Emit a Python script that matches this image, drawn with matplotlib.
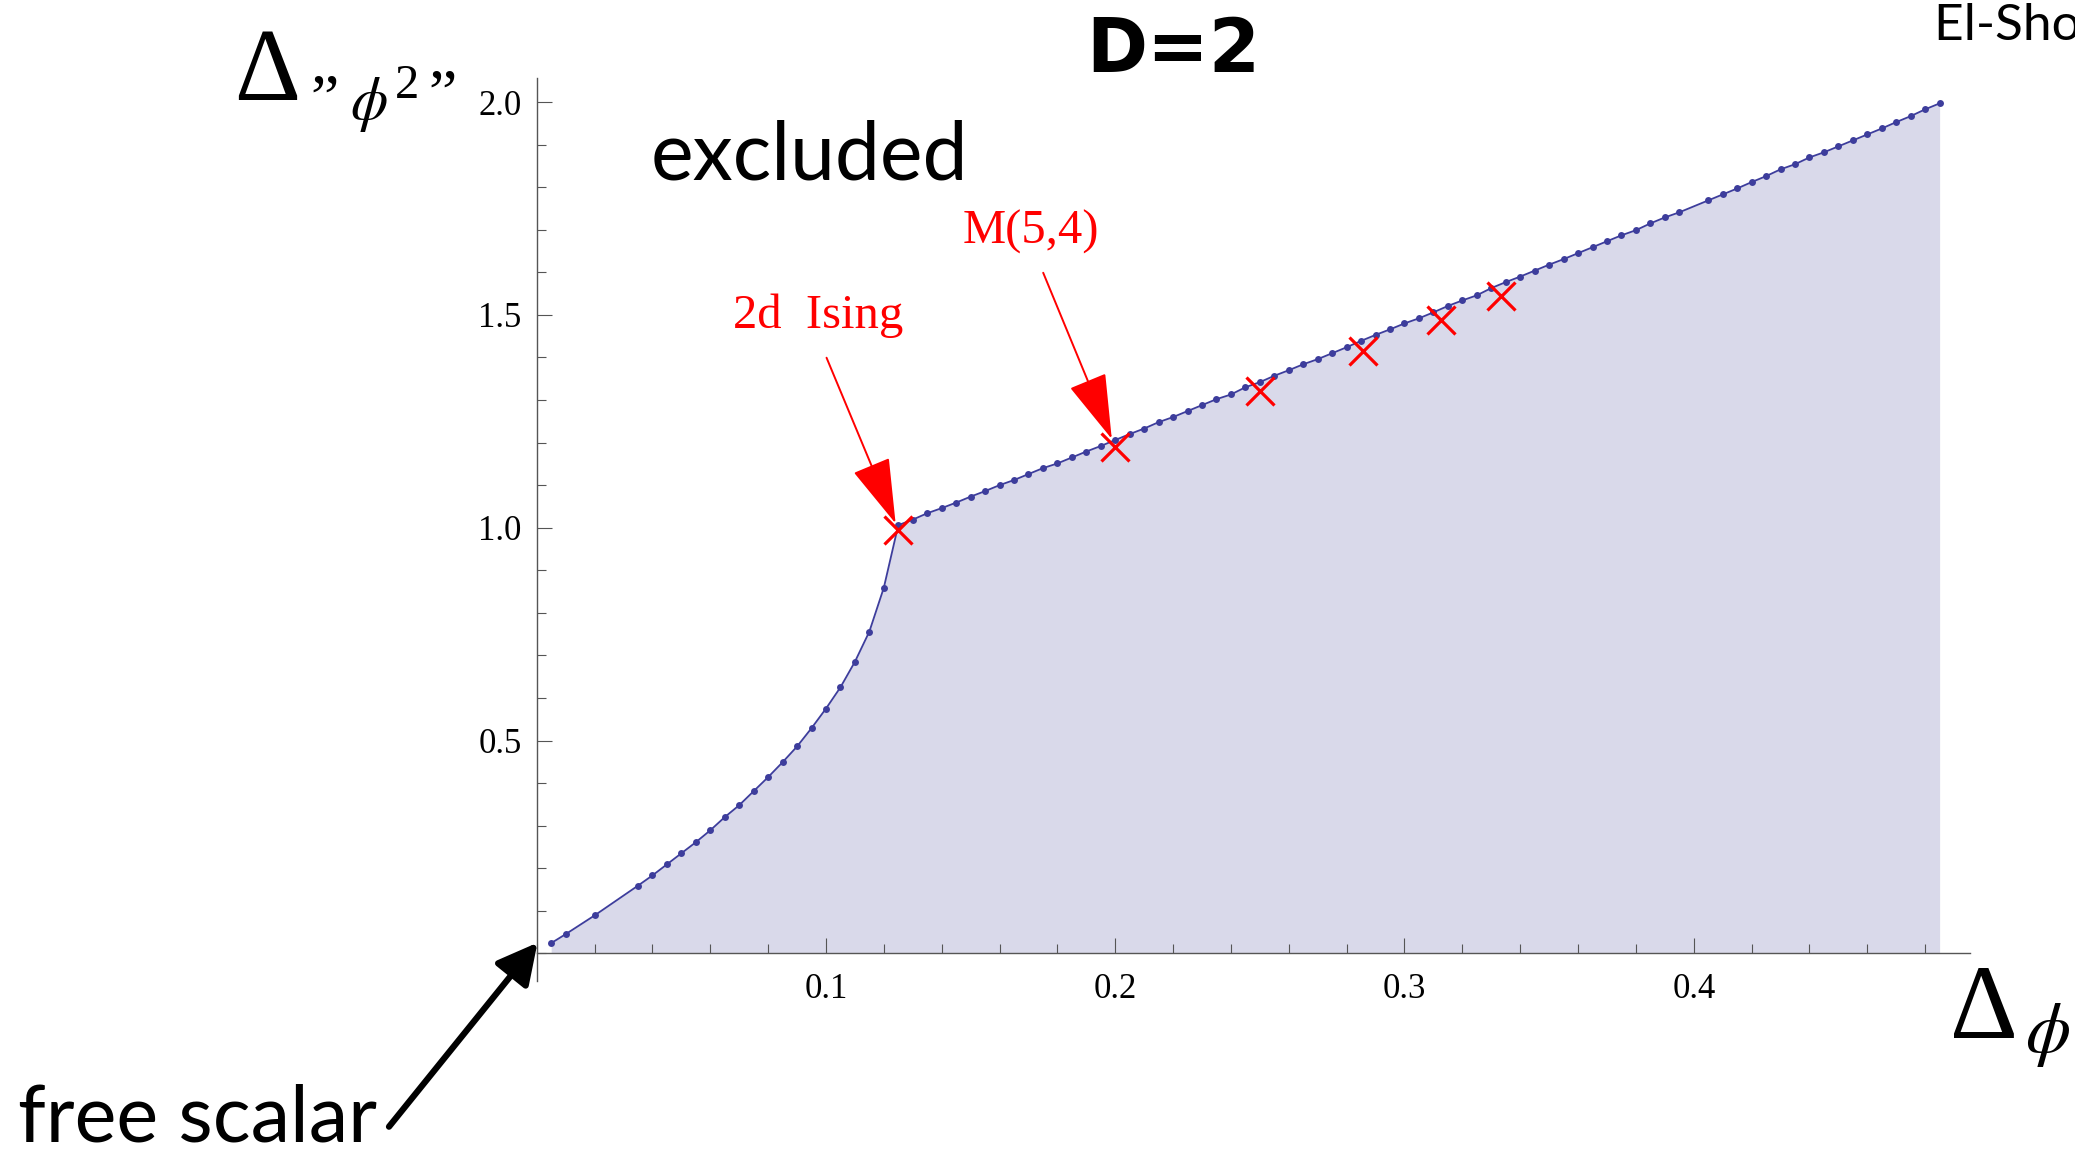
import matplotlib
matplotlib.use('Agg')
import matplotlib.pyplot as plt
from matplotlib.ticker import FixedLocator, MultipleLocator

plt.rcParams['mathtext.fontset'] = 'stix'

# ---------------- data ----------------
bound_x = [0.005, 0.010, 0.020, 0.035, 0.040, 0.045, 0.050, 0.055, 0.060, 0.065,
           0.070, 0.075, 0.080, 0.085, 0.090, 0.095, 0.100, 0.105, 0.110, 0.115,
           0.120, 0.125, 0.130, 0.135, 0.140, 0.145, 0.150, 0.155, 0.160, 0.165,
           0.170, 0.175, 0.180, 0.185, 0.190, 0.195, 0.200, 0.205, 0.210, 0.215,
           0.220, 0.225, 0.230, 0.235, 0.240, 0.245, 0.250, 0.255, 0.260, 0.265,
           0.270, 0.275, 0.280, 0.285, 0.290, 0.295, 0.300, 0.305, 0.310, 0.315,
           0.320, 0.325, 0.330, 0.335, 0.340, 0.345, 0.350, 0.355, 0.360, 0.365,
           0.370, 0.375, 0.380, 0.385, 0.390, 0.395, 0.405, 0.410, 0.415, 0.420,
           0.425, 0.430, 0.435, 0.440, 0.445, 0.450, 0.455, 0.460, 0.465, 0.470,
           0.475, 0.480, 0.485]
bound_y = [0.024, 0.045, 0.089, 0.159, 0.183, 0.209, 0.235, 0.261, 0.289, 0.320,
           0.348, 0.381, 0.414, 0.449, 0.486, 0.529, 0.575, 0.625, 0.685, 0.756,
           0.859, 1.006, 1.019, 1.034, 1.046, 1.059, 1.073, 1.086, 1.100, 1.112,
           1.126, 1.140, 1.151, 1.165, 1.179, 1.192, 1.206, 1.220, 1.233, 1.248,
           1.260, 1.274, 1.288, 1.302, 1.313, 1.330, 1.342, 1.357, 1.370, 1.384,
           1.396, 1.410, 1.424, 1.439, 1.453, 1.466, 1.480, 1.492, 1.506, 1.521,
           1.534, 1.546, 1.563, 1.577, 1.590, 1.604, 1.618, 1.631, 1.645, 1.659,
           1.673, 1.687, 1.699, 1.715, 1.729, 1.741, 1.769, 1.783, 1.797, 1.812,
           1.826, 1.842, 1.854, 1.870, 1.882, 1.896, 1.910, 1.924, 1.938, 1.953,
           1.967, 1.983, 1.997]

model_x = [0.125, 0.200, 0.250, 0.2857, 0.3125, 0.3333]
model_y = [0.995, 1.189, 1.321, 1.416, 1.488, 1.544]

xtick_vals = [0.1, 0.2, 0.3, 0.4]
xtick_labels = ['0.1', '0.2', '0.3', '0.4']
ytick_vals = [0.5, 1.0, 1.5, 2.0]
ytick_labels = ['0.5', '1.0', '1.5', '2.0']

# ---------------- figure ----------------
W, H = 2075, 1157
fig = plt.figure(figsize=(W / 100, H / 100), dpi=100)


def fx(px):
    return px / W


def fy(py):
    return 1 - py / H


LINE = '#3d3d9c'
FILL = '#d9d9ea'
SERIF = 'Liberation Serif'
SANS = 'Lato'

left_px, right_px, top_px, bot_px = 536.7, 1970.0, 78.0, 980.5
ax = fig.add_axes([fx(left_px), fy(bot_px), (right_px - left_px) / W, (bot_px - top_px) / H])
ax.set_xlim(0, 0.4955)
ax.set_ylim(-0.0638, 2.0566)
ax.patch.set_alpha(0)

ax.fill_between(bound_x, 0, bound_y, color=FILL, lw=0, zorder=1)
ax.plot(bound_x, bound_y, '-', color=LINE, lw=1.3, zorder=3)
ax.plot(bound_x, bound_y, 'o', color=LINE, ms=5.0, mew=0, zorder=4)
ax.plot(model_x, model_y, 'x', color='red', ms=20, mew=2.3, ls='none', zorder=5)

for s in ['top', 'right']:
    ax.spines[s].set_visible(False)
ax.spines['bottom'].set_position(('data', 0))
for s in ['left', 'bottom']:
    ax.spines[s].set_color('#555555')
    ax.spines[s].set_linewidth(1.0)
    ax.spines[s].set_zorder(6)

ax.xaxis.set_major_locator(FixedLocator(xtick_vals))
ax.set_xticklabels(xtick_labels)
ax.xaxis.set_minor_locator(MultipleLocator(0.02))
ax.yaxis.set_major_locator(FixedLocator(ytick_vals))
ax.set_yticklabels(ytick_labels)
ax.yaxis.set_minor_locator(MultipleLocator(0.1))

ax.tick_params(which='both', direction='in', color='#555555', width=0.8)
ax.tick_params(which='major', length=11)
ax.tick_params(which='minor', length=6.5)
ax.tick_params(axis='x', which='major', pad=14, labelsize=25)
ax.tick_params(axis='y', which='major', pad=11, labelsize=25)
for lab in ax.get_xticklabels() + ax.get_yticklabels():
    lab.set_fontfamily(SERIF)

# red annotations
ax.annotate('', xy=(model_x[0], model_y[0]), xytext=(0.1002, 1.3994),
            arrowprops=dict(arrowstyle='-|>,head_length=2.0,head_width=0.6',
                            color='red', lw=1.4, mutation_scale=21,
                            shrinkA=0, shrinkB=5), zorder=6)
ax.annotate('', xy=(model_x[1], model_y[1]), xytext=(0.1751, 1.599),
            arrowprops=dict(arrowstyle='-|>,head_length=2.0,head_width=0.6',
                            color='red', lw=1.4, mutation_scale=21,
                            shrinkA=0, shrinkB=6.5), zorder=6)
ax.text(0.0678, 1.4685, '2d  Ising', color='red', fontsize=35, family=SERIF,
        ha='left', va='baseline')
ax.text(0.1473, 1.668, 'M(5,4)', color='red', fontsize=35, family=SERIF,
        ha='left', va='baseline')

# big texts
fig.text(fx(1173), fy(72), 'D=2', fontsize=53, family='DejaVu Sans', fontweight='bold',
         ha='center', va='baseline')
fig.text(fx(651), fy(180), 'excluded', fontsize=58, family=SANS, ha='left', va='baseline')
fig.text(fx(18), fy(1142), 'free scalar', fontsize=57, family=SANS, ha='left', va='baseline')
fig.text(fx(1934), fy(40), 'El-Showk et al', fontsize=37, family=SANS, ha='left', va='baseline')

# free scalar arrow
ax.annotate('', xy=(537.5, H - 942.7), xycoords='figure pixels',
            xytext=(389, H - 1126.7), textcoords='figure pixels',
            arrowprops=dict(arrowstyle='-|>,head_length=0.98,head_width=0.51',
                            color='black', lw=4.5, mutation_scale=25,
                            shrinkA=0, shrinkB=0), annotation_clip=False)

# axis labels
fig.text(fx(234), fy(100), 'Δ', fontsize=74, family=SERIF, ha='left', va='baseline')
fig.text(fx(310), fy(118), '”', fontsize=46, family=SERIF, ha='left', va='baseline')
fig.text(fx(350), fy(119), r'$\phi$', fontsize=43, ha='left', va='baseline')
fig.text(fx(395), fy(98), '2', fontsize=35, family=SERIF, ha='left', va='baseline')
fig.text(fx(428), fy(113), '”', fontsize=46, family=SERIF, ha='left', va='baseline')

fig.text(fx(1950), fy(1038), 'Δ', fontsize=76, family=SERIF, ha='left', va='baseline')
fig.text(fx(2025), fy(1052), r'$\phi$', fontsize=52, ha='left', va='baseline')

fig.savefig('out.png', dpi=100, facecolor='white')
